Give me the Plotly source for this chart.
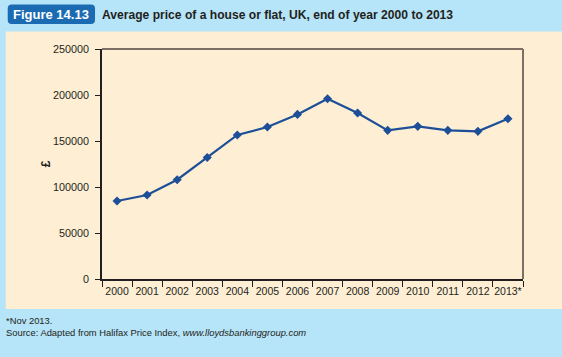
import plotly.graph_objects as go

years = ["2000", "2001", "2002", "2003", "2004", "2005", "2006",
         "2007", "2008", "2009", "2010", "2011", "2012", "2013*"]
prices = [84800, 91300, 107900, 132000, 156600, 165200, 178900,
          195900, 180400, 161600, 165900, 161600, 160500, 174200]
y_ticks = [0, 50000, 100000, 150000, 200000, 250000]

W, H = 562, 357
L, R, T, B = 101.5, 523.5, 48.5, 279


def px(x):
    return (x - L) / (R - L)


def py(y):
    return (B - y) / (B - T)


def rounded_rect(x0, y0, x1, y1, r):
    pts = [
        f"M {px(x0 + r)} {py(y0)}",
        f"L {px(x1 - r)} {py(y0)}",
        f"Q {px(x1)} {py(y0)} {px(x1)} {py(y0 + r)}",
        f"L {px(x1)} {py(y1 - r)}",
        f"Q {px(x1)} {py(y1)} {px(x1 - r)} {py(y1)}",
        f"L {px(x0 + r)} {py(y1)}",
        f"Q {px(x0)} {py(y1)} {px(x0)} {py(y1 - r)}",
        f"L {px(x0)} {py(y0 + r)}",
        f"Q {px(x0)} {py(y0)} {px(x0 + r)} {py(y0)}",
        "Z",
    ]
    return " ".join(pts)


fig = go.Figure()
fig.add_trace(go.Scatter(
    x=years, y=prices, mode="lines+markers",
    line=dict(color="#1d4f98", width=2.2),
    marker=dict(symbol="diamond", size=7, color="#1d4f98"),
    showlegend=False, hoverinfo="skip",
))

font = "Liberation Sans, Arial, sans-serif"
fig.update_layout(
    width=W, height=H,
    margin=dict(l=L, r=W - R, t=T, b=H - B, pad=0, autoexpand=False),
    paper_bgcolor="#b6e4f8",
    plot_bgcolor="#fbd9b1",
    font=dict(family=font, size=11, color="#231f20"),
    xaxis=dict(
        type="category", range=[-0.5, 13.5], tickson="boundaries",
        ticks="outside", ticklen=6, tickcolor="#231f20", tickwidth=1,
        showline=True, linecolor="#231f20", linewidth=1.5,
        showgrid=False, zeroline=False, fixedrange=True,
        tickangle=0, automargin=False, ticklabelstandoff=2,
        tickfont=dict(size=10.5),
    ),
    yaxis=dict(
        range=[0, 250000], tickvals=y_ticks,
        ticktext=[str(v) for v in y_ticks],
        ticks="outside", ticklen=5, tickcolor="#231f20", tickwidth=1,
        showline=True, linecolor="#231f20", linewidth=1.5,
        showgrid=False, zeroline=False, fixedrange=True,
        automargin=False, ticklabelstandoff=4,
        tickfont=dict(size=10.8),
        title=dict(text="<b>£</b>", font=dict(size=12), standoff=0),
    ),
    shapes=[
        dict(type="rect", xref="paper", yref="paper", layer="below",
             x0=px(5), x1=px(W + 2), y0=py(309), y1=py(31),
             fillcolor="#feeed3", line=dict(width=0)),
        dict(type="line", xref="paper", yref="paper",
             x0=0, x1=1, y0=1, y1=1, line=dict(color="#7d6f63", width=2)),
        dict(type="line", xref="paper", yref="paper",
             x0=1, x1=1, y0=0, y1=1, line=dict(color="#7d6f63", width=2)),
        dict(type="path", xref="paper", yref="paper", layer="above",
             path=rounded_rect(7, 4, 94.5, 23.5, 4),
             fillcolor="#1b6bb3", line=dict(width=0)),
    ],
    annotations=[
        dict(text="<b>Figure 14.13</b>", xref="paper", yref="paper",
             x=px(50.5), y=py(14),
             xanchor="center", yanchor="middle", showarrow=False,
             font=dict(size=13, color="white", family=font)),
        dict(text="<b>Average price of a house or flat, UK, end of year 2000 to 2013</b>",
             xref="paper", yref="paper",
             x=px(99.5), y=py(14),
             xanchor="left", yanchor="middle", showarrow=False,
             font=dict(size=12.1, color="#231f20", family=font)),
        dict(text="*Nov 2013.", xref="paper", yref="paper",
             x=px(3), y=py(320.5),
             xanchor="left", yanchor="middle", showarrow=False,
             font=dict(size=9.4, color="#231f20", family=font)),
        dict(text="Source: Adapted from Halifax Price Index, <i>www.lloydsbankinggroup.com</i>",
             xref="paper", yref="paper",
             x=px(3), y=py(333),
             xanchor="left", yanchor="middle", showarrow=False,
             font=dict(size=9.4, color="#231f20", family=font)),
    ],
)

fig.write_html(
    "out.html",
    config={"displayModeBar": False},
    post_script="document.body.style.margin='0';document.body.style.overflow='hidden';",
)
